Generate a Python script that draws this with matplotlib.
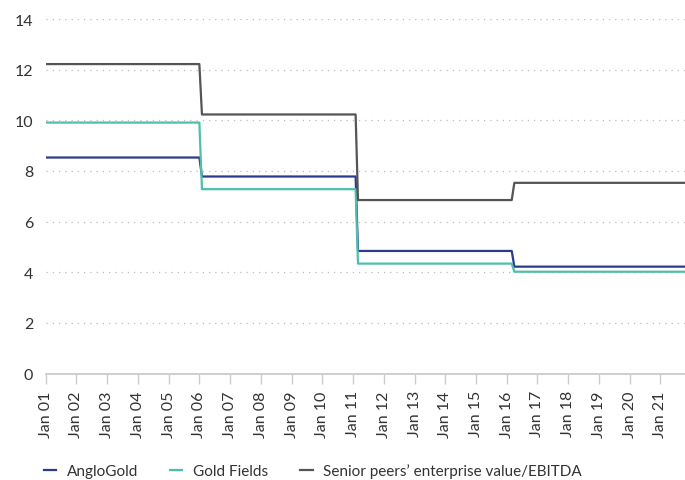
import datetime as dt

import matplotlib
matplotlib.use("Agg")
import matplotlib.pyplot as plt

plt.rcParams["font.family"] = ["Lato", "DejaVu Sans"]

# step-change points (dates) and values
dates = [dt.date(2001, 1, 1), dt.date(2006, 1, 1), dt.date(2006, 2, 1),
         dt.date(2011, 2, 1), dt.date(2011, 3, 1), dt.date(2016, 3, 1),
         dt.date(2016, 4, 1), dt.date(2021, 10, 20)]
anglogold = [8.53, 8.53, 7.78, 7.78, 4.84, 4.84, 4.22, 4.22]
gold_fields = [9.91, 9.91, 7.28, 7.28, 4.34, 4.34, 4.02, 4.02]
senior_peers = [12.22, 12.22, 10.23, 10.23, 6.85, 6.85, 7.53, 7.53]

series_names = ["AngloGold", "Gold Fields",
                "Senior peers\u2019 enterprise value/EBITDA"]
series_colors = ["#2b3a8c", "#4fbfa9", "#555555"]

tick_years = list(range(2001, 2022))
tick_labels = [f"Jan {y % 100:02d}" for y in tick_years]
y_ticks = [0, 2, 4, 6, 8, 10, 12, 14]

fig = plt.figure(figsize=(6.85, 4.81), dpi=100)
ax = fig.add_axes([0.0667, 0.2214, 0.9333, 0.7370])

for vals, name, col in zip([anglogold, gold_fields, senior_peers],
                           series_names, series_colors):
    ax.plot(dates, vals, color=col, lw=1.6, label=name)

ax.set_xlim(dates[0], dates[-1])
ax.set_ylim(0, 14)
ax.set_yticks(y_ticks)
ax.set_xticks([dt.date(y, 1, 1) for y in tick_years])
ax.set_xticklabels(tick_labels, rotation=90)

ax.grid(axis="y", linestyle=(0, (1, 4)), color="#bbbbbb", lw=0.9)
ax.set_axisbelow(True)
for s in ["top", "right", "left"]:
    ax.spines[s].set_visible(False)
ax.spines["bottom"].set_color("#cccccc")
ax.spines["bottom"].set_linewidth(1.3)
ax.tick_params(axis="y", length=0, pad=9, labelsize=11.5, labelcolor="#333333")
ax.tick_params(axis="x", length=7, width=1, color="#cccccc", pad=5,
               labelsize=11.5, labelcolor="#333333")

fig.legend(loc="center left", bbox_to_anchor=(0.055, 0.019), ncol=3,
           frameon=False, fontsize=11, handlelength=0.8, handletextpad=0.7,
           columnspacing=2.1, labelcolor="#333333", borderaxespad=0)

fig.savefig("out.png", dpi=100)
